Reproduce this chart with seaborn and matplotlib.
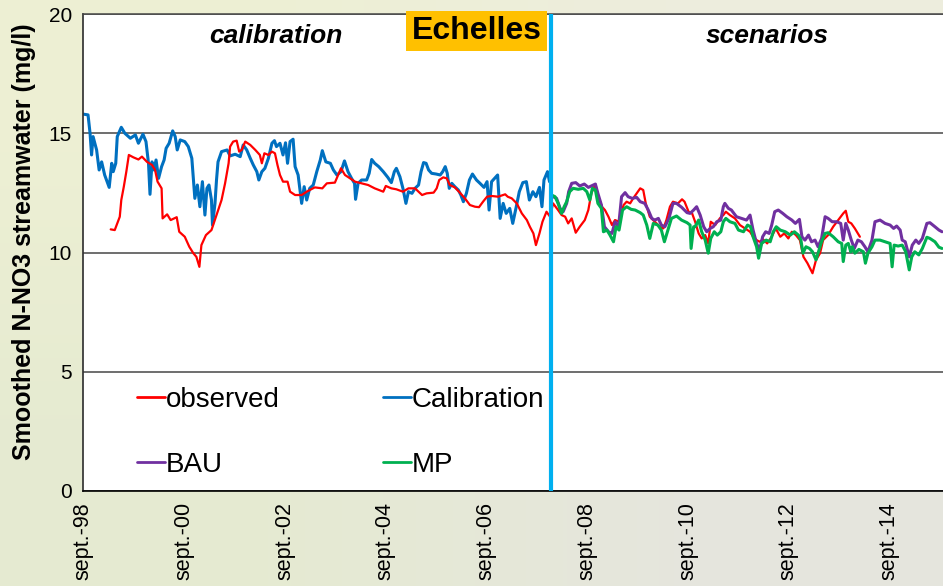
import numpy as np
import pandas as pd
import matplotlib
matplotlib.use("Agg")
import matplotlib.pyplot as plt
from matplotlib.lines import Line2D
import seaborn as sns

# ---- data: smoothed N-NO3 concentration (mg/l), time in decimal years ----
obs_t = [1999.22, 1999.30, 1999.40, 1999.43, 1999.48, 1999.53, 1999.58, 1999.67, 1999.77, 1999.84,
         1999.94, 2000.04, 2000.10, 2000.15, 2000.23, 2000.25, 2000.34, 2000.41, 2000.53, 2000.58,
         2000.69, 2000.78, 2000.86, 2000.92, 2000.98, 2001.02, 2001.11, 2001.22, 2001.32, 2001.42,
         2001.49, 2001.56, 2001.59, 2001.65, 2001.72, 2001.77, 2001.82, 2001.89, 2001.99, 2002.09,
         2002.18, 2002.22, 2002.27, 2002.35, 2002.42, 2002.48, 2002.53, 2002.58, 2002.64, 2002.73,
         2002.78, 2002.88, 2003.01, 2003.11, 2003.27, 2003.42, 2003.51, 2003.67, 2003.79, 2003.87,
         2003.97, 2004.07, 2004.20, 2004.33, 2004.46, 2004.63, 2004.68, 2004.79, 2004.89, 2005.02,
         2005.13, 2005.26, 2005.40, 2005.49, 2005.63, 2005.69, 2005.74, 2005.82, 2005.89, 2005.95,
         2006.05, 2006.15, 2006.25, 2006.35, 2006.45, 2006.53, 2006.61, 2006.69, 2006.78, 2006.91,
         2007.05, 2007.10, 2007.18, 2007.28, 2007.38, 2007.48, 2007.54, 2007.61, 2007.66, 2007.73,
         2007.79, 2007.87, 2007.94, 2008.00, 2008.10, 2008.17, 2008.24, 2008.30, 2008.37, 2008.45,
         2008.53, 2008.63, 2008.70, 2008.76, 2008.84, 2008.90, 2008.97, 2009.03, 2009.10, 2009.17,
         2009.23, 2009.31, 2009.40, 2009.46, 2009.53, 2009.59, 2009.66, 2009.73, 2009.79, 2009.84,
         2009.92, 2010.02, 2010.12, 2010.19, 2010.25, 2010.32, 2010.38, 2010.48, 2010.56, 2010.61,
         2010.69, 2010.76, 2010.82, 2010.89, 2010.95, 2011.02, 2011.08, 2011.13, 2011.22, 2011.31,
         2011.38, 2011.43, 2011.51, 2011.61, 2011.71, 2011.81, 2011.91, 2011.97, 2012.04, 2012.10,
         2012.17, 2012.25, 2012.34, 2012.42, 2012.51, 2012.59, 2012.67, 2012.74, 2012.82, 2012.90,
         2012.97, 2013.05, 2013.15, 2013.22, 2013.30, 2013.36, 2013.46, 2013.56, 2013.66, 2013.76,
         2013.81, 2013.86, 2013.92, 2013.99, 2014.09]
obs_v = [10.97, 10.94, 11.50, 12.20, 12.76, 13.39, 14.09, 13.99, 13.90, 14.02,
         13.80, 13.67, 13.46, 12.97, 12.69, 11.43, 11.60, 11.36, 11.48, 10.87,
         10.66, 10.24, 9.97, 9.82, 9.40, 10.31, 10.73, 10.94, 11.57, 12.20,
         12.90, 13.74, 14.44, 14.65, 14.69, 14.23, 14.30, 14.65, 14.51, 14.30,
         14.09, 13.74, 14.16, 14.09, 14.23, 14.16, 13.67, 13.25, 12.97, 12.97,
         12.55, 12.41, 12.41, 12.55, 12.73, 12.69, 12.90, 12.93, 13.53, 13.25,
         13.11, 12.97, 12.90, 12.83, 12.69, 12.55, 12.79, 12.69, 12.65, 12.55,
         12.69, 12.69, 12.41, 12.48, 12.51, 12.69, 13.04, 13.15, 13.11, 12.83,
         12.73, 12.51, 12.27, 11.99, 11.92, 11.90, 12.13, 12.34, 12.37, 12.34,
         12.44, 12.34, 12.27, 12.06, 11.64, 11.36, 11.08, 10.80, 10.31, 10.80,
         11.29, 11.71, 11.50, 12.06, 11.78, 11.57, 11.50, 11.22, 11.43, 10.83,
         11.08, 11.36, 11.78, 12.48, 12.87, 12.34, 11.92, 11.78, 11.50, 11.15,
         11.36, 11.29, 11.99, 12.13, 12.06, 12.27, 12.48, 12.69, 12.62, 12.06,
         11.50, 11.29, 11.08, 11.01, 11.36, 11.92, 12.13, 12.06, 12.23, 12.13,
         11.71, 11.64, 11.29, 10.80, 10.59, 10.73, 10.38, 11.29, 11.15, 11.43,
         11.57, 11.71, 11.57, 11.43, 11.15, 11.01, 10.87, 10.66, 10.52, 10.45,
         10.55, 10.38, 10.66, 11.01, 10.66, 10.80, 10.59, 10.87, 10.73, 10.52,
         9.82, 9.55, 9.13, 9.69, 9.97, 10.52, 10.73, 11.08, 11.36, 11.64,
         11.75, 11.29, 11.22, 11.01, 10.66]

cal_t = [1998.68, 1998.77, 1998.81, 1998.84, 1998.87, 1998.94, 1998.99, 1999.04, 1999.10, 1999.19,
         1999.24, 1999.27, 1999.32, 1999.35, 1999.43, 1999.50, 1999.61, 1999.71, 1999.77, 1999.86,
         1999.92, 1999.97, 2000.00, 2000.04, 2000.08, 2000.12, 2000.17, 2000.23, 2000.28, 2000.32,
         2000.38, 2000.45, 2000.50, 2000.54, 2000.60, 2000.69, 2000.76, 2000.83, 2000.86, 2000.89,
         2000.94, 2000.99, 2001.04, 2001.09, 2001.13, 2001.17, 2001.22, 2001.24, 2001.29, 2001.32,
         2001.35, 2001.42, 2001.53, 2001.59, 2001.69, 2001.79, 2001.85, 2001.92, 2001.99, 2002.05,
         2002.12, 2002.16, 2002.22, 2002.28, 2002.35, 2002.42, 2002.47, 2002.51, 2002.58, 2002.64,
         2002.69, 2002.73, 2002.78, 2002.84, 2002.88, 2002.94, 2003.01, 2003.06, 2003.11, 2003.17,
         2003.24, 2003.31, 2003.38, 2003.42, 2003.49, 2003.58, 2003.64, 2003.71, 2003.79, 2003.86,
         2003.93, 2004.00, 2004.06, 2004.08, 2004.13, 2004.20, 2004.30, 2004.35, 2004.40, 2004.46,
         2004.54, 2004.63, 2004.72, 2004.79, 2004.85, 2004.89, 2004.96, 2005.02, 2005.08, 2005.13,
         2005.20, 2005.26, 2005.33, 2005.38, 2005.43, 2005.48, 2005.53, 2005.59, 2005.68, 2005.76,
         2005.81, 2005.86, 2005.90, 2005.94, 2005.99, 2006.05, 2006.12, 2006.17, 2006.22, 2006.28,
         2006.34, 2006.40, 2006.48, 2006.55, 2006.63, 2006.69, 2006.73, 2006.78, 2006.84, 2006.90,
         2006.95, 2007.01, 2007.07, 2007.14, 2007.20, 2007.27, 2007.33, 2007.40, 2007.47, 2007.53,
         2007.60, 2007.66, 2007.73, 2007.78, 2007.82, 2007.89, 2007.93]
cal_v = [15.80, 15.77, 15.00, 14.09, 14.86, 14.30, 13.46, 13.80, 13.25, 12.73,
         13.74, 13.39, 13.74, 14.86, 15.25, 15.00, 14.79, 14.93, 14.58, 14.96,
         14.65, 13.74, 12.44, 13.80, 13.46, 13.88, 13.11, 13.60, 13.88, 14.37,
         14.58, 15.10, 14.86, 14.30, 14.72, 14.65, 14.44, 13.95, 13.11, 12.27,
         12.83, 11.92, 12.97, 11.57, 12.69, 12.83, 12.20, 11.15, 12.06, 13.04,
         13.80, 14.23, 14.30, 14.05, 14.12, 14.02, 14.51, 14.30, 13.95, 13.67,
         13.39, 13.04, 13.39, 13.53, 13.95, 14.58, 14.69, 14.44, 14.58, 14.09,
         14.60, 13.74, 14.65, 14.75, 13.60, 13.25, 12.06, 12.76, 12.20, 12.69,
         12.83, 13.39, 13.88, 14.27, 13.80, 13.74, 13.46, 13.25, 13.39, 13.84,
         13.39, 13.11, 12.90, 12.23, 12.90, 13.04, 13.04, 13.32, 13.90, 13.74,
         13.60, 13.39, 13.15, 12.93, 13.39, 13.53, 13.18, 12.69, 12.06, 12.55,
         12.48, 12.69, 12.83, 13.39, 13.77, 13.74, 13.46, 13.32, 13.29, 13.25,
         13.39, 13.60, 13.32, 12.69, 12.90, 12.76, 12.62, 12.41, 12.13, 12.48,
         13.04, 13.29, 13.04, 12.90, 12.73, 12.97, 11.78, 12.97, 13.11, 13.25,
         11.43, 12.06, 11.64, 11.85, 11.22, 11.92, 12.55, 12.93, 12.97, 12.20,
         12.55, 12.34, 12.73, 11.92, 13.04, 13.39, 12.97]

bau_t = [2008.00, 2008.07, 2008.14, 2008.20, 2008.27, 2008.31, 2008.37, 2008.45, 2008.53, 2008.62,
         2008.70, 2008.76, 2008.84, 2008.89, 2008.96, 2009.02, 2009.10, 2009.17, 2009.23, 2009.30,
         2009.36, 2009.43, 2009.49, 2009.57, 2009.66, 2009.73, 2009.82, 2009.89, 2009.96, 2010.02,
         2010.09, 2010.15, 2010.22, 2010.30, 2010.38, 2010.45, 2010.55, 2010.66, 2010.72, 2010.79,
         2010.85, 2010.92, 2010.99, 2011.05, 2011.12, 2011.18, 2011.25, 2011.33, 2011.38, 2011.41,
         2011.48, 2011.54, 2011.64, 2011.74, 2011.84, 2011.91, 2011.97, 2012.04, 2012.10, 2012.16,
         2012.22, 2012.29, 2012.34, 2012.40, 2012.47, 2012.56, 2012.64, 2012.74, 2012.81, 2012.89,
         2012.94, 2013.00, 2013.07, 2013.13, 2013.20, 2013.26, 2013.33, 2013.40, 2013.46, 2013.54,
         2013.63, 2013.71, 2013.76, 2013.81, 2013.86, 2013.92, 2013.98, 2014.05, 2014.12, 2014.19,
         2014.25, 2014.33, 2014.39, 2014.49, 2014.59, 2014.69, 2014.76, 2014.82, 2014.89, 2014.93,
         2014.99, 2015.07, 2015.13, 2015.20, 2015.26, 2015.33, 2015.42, 2015.48, 2015.58, 2015.66,
         2015.72]
bau_v = [12.34, 12.27, 11.85, 11.71, 12.06, 12.55, 12.90, 12.93, 12.79, 12.87,
         12.73, 12.79, 12.87, 12.48, 11.99, 11.08, 10.87, 10.80, 11.29, 11.08,
         12.34, 12.51, 12.34, 12.27, 12.31, 12.13, 12.06, 11.78, 11.43, 11.36,
         11.43, 11.15, 11.08, 11.43, 12.06, 12.06, 11.90, 11.67, 11.64, 11.78,
         11.92, 11.57, 11.08, 10.87, 11.01, 11.08, 11.29, 11.36, 11.92, 12.06,
         11.85, 11.78, 11.50, 11.43, 11.36, 11.57, 10.94, 10.38, 10.10, 10.66,
         10.87, 10.80, 11.15, 11.71, 11.78, 11.64, 11.50, 11.36, 11.22, 11.39,
         10.66, 10.52, 10.73, 10.45, 10.52, 10.24, 10.59, 11.50, 11.43, 11.29,
         11.29, 11.22, 10.52, 11.22, 10.94, 10.52, 10.17, 10.52, 10.45, 10.24,
         10.03, 10.52, 11.29, 11.36, 11.22, 11.15, 11.01, 11.11, 10.94, 10.52,
         10.45, 9.82, 10.31, 10.52, 10.38, 10.59, 11.22, 11.25, 11.08, 10.94,
         10.87]

mp_t = [2007.97, 2008.04, 2008.10, 2008.17, 2008.22, 2008.27, 2008.33, 2008.40, 2008.50, 2008.60,
        2008.67, 2008.73, 2008.78, 2008.84, 2008.89, 2008.96, 2009.00, 2009.07, 2009.13, 2009.20,
        2009.25, 2009.31, 2009.38, 2009.46, 2009.55, 2009.63, 2009.73, 2009.79, 2009.86, 2009.92,
        2009.99, 2010.08, 2010.15, 2010.21, 2010.27, 2010.35, 2010.45, 2010.55, 2010.66, 2010.72,
        2010.74, 2010.79, 2010.82, 2010.89, 2010.95, 2011.02, 2011.08, 2011.13, 2011.20, 2011.26,
        2011.33, 2011.38, 2011.43, 2011.51, 2011.61, 2011.68, 2011.78, 2011.86, 2011.92, 2011.97,
        2012.04, 2012.08, 2012.14, 2012.23, 2012.31, 2012.37, 2012.43, 2012.51, 2012.61, 2012.71,
        2012.79, 2012.87, 2012.92, 2012.96, 2013.02, 2013.09, 2013.15, 2013.22, 2013.26, 2013.33,
        2013.40, 2013.46, 2013.56, 2013.66, 2013.73, 2013.76, 2013.81, 2013.86, 2013.91, 2013.94,
        2013.99, 2014.07, 2014.16, 2014.20, 2014.25, 2014.33, 2014.39, 2014.49, 2014.59, 2014.69,
        2014.73, 2014.77, 2014.85, 2014.93, 2015.00, 2015.07, 2015.12, 2015.18, 2015.26, 2015.33,
        2015.42, 2015.48, 2015.58, 2015.66, 2015.72]
mp_v = [12.41, 12.34, 12.06, 11.64, 11.92, 12.13, 12.55, 12.69, 12.65, 12.69,
        12.55, 12.20, 12.69, 12.62, 12.06, 11.85, 10.87, 10.94, 10.73, 10.45,
        11.08, 10.94, 11.78, 11.92, 11.81, 11.78, 11.67, 11.57, 11.15, 10.59,
        11.22, 11.15, 10.94, 10.45, 10.87, 11.43, 11.53, 11.36, 11.25, 11.15,
        10.17, 11.08, 11.08, 11.36, 10.87, 10.52, 9.97, 10.59, 10.87, 10.73,
        10.87, 11.29, 11.43, 11.29, 11.22, 10.94, 10.87, 11.15, 11.08, 10.66,
        10.24, 9.76, 10.38, 10.52, 10.45, 10.87, 11.08, 10.94, 10.87, 10.73,
        10.87, 10.73, 10.52, 9.97, 10.24, 10.17, 10.03, 9.69, 9.97, 10.45,
        10.80, 10.83, 10.66, 10.45, 10.38, 9.62, 10.31, 10.38, 10.03, 10.24,
        9.97, 10.13, 10.03, 9.55, 9.97, 10.24, 10.52, 10.52, 10.45, 10.38,
        9.40, 10.31, 10.27, 10.31, 10.03, 9.27, 9.82, 10.03, 9.90, 10.17,
        10.64, 10.59, 10.45, 10.22, 10.17]

split_year = 2007.96                      # end of calibration period
tick_years = [1998.67, 2000.67, 2002.67, 2004.67, 2006.67, 2008.67, 2010.67, 2012.67, 2014.67]
tick_labels = ["sept.-98", "sept.-00", "sept.-02", "sept.-04", "sept.-06",
               "sept.-08", "sept.-10", "sept.-12", "sept.-14"]
y_ticks = [0, 5, 10, 15, 20]

series = [
    ("Calibration", cal_t, cal_v, "#0070C0", 2.2),
    ("observed", obs_t, obs_v, "#FF0000", 1.6),
    ("BAU", bau_t, bau_v, "#7030A0", 2.2),
    ("MP", mp_t, mp_v, "#00B050", 2.2),
]

# ---- styling ----
sns.set_theme(style="white")
plt.rcParams["font.family"] = ["Liberation Sans", "DejaVu Sans"]
plt.rcParams.update({"text.color": "black", "axes.labelcolor": "black",
                     "xtick.color": "black", "ytick.color": "black"})

W, H = 943, 586
fig = plt.figure(figsize=(W / 100, H / 100), dpi=100)

# soft pale backdrop behind the plot
bg = fig.add_axes([0, 0, 1, 1], zorder=0)
bg.axis("off")
grad = np.array([[[0.93, 0.94, 0.83], [0.93, 0.93, 0.87]],
                 [[0.90, 0.92, 0.82], [0.90, 0.90, 0.87]]])
bg.imshow(grad, extent=(0, 1, 0, 1), aspect="auto", interpolation="bilinear")

ax = fig.add_axes([83 / W, 95 / H, 860 / W, 477 / H], zorder=1)
ax.set_facecolor("white")

for name, t, v, col, lw in series:
    df = pd.DataFrame({"t": t, "v": v})
    sns.lineplot(data=df, x="t", y="v", ax=ax, color=col, linewidth=lw,
                 estimator=None, legend=False)

ax.axvline(split_year, color="#00B0F0", linewidth=3, zorder=5)

ax.set_xlim(1998.67, 2015.74)
ax.set_ylim(0, 20)
ax.set_yticks(y_ticks)
ax.set_yticklabels([str(v) for v in y_ticks], fontsize=15)
ax.set_xticks(tick_years)
ax.set_xticklabels(tick_labels, rotation=90, fontsize=15.5)
ax.tick_params(axis="both", direction="out", length=5, width=1, color="black",
               labelcolor="black", pad=3)
ax.yaxis.grid(True, color="#474747", linewidth=1.1)
ax.xaxis.grid(False)
for side in ["left", "bottom"]:
    ax.spines[side].set_visible(True)
ax.spines["right"].set_visible(False)
ax.spines["top"].set_color("#474747")
ax.spines["top"].set_linewidth(1.1)
ax.spines["left"].set_color("#333333")
ax.spines["bottom"].set_color("black")
ax.spines["bottom"].set_linewidth(1.2)

ax.set_xlabel("")
ax.set_ylabel("Smoothed N-NO3 streamwater (mg/l)", fontsize=18, fontweight="bold", color="black")
ax.yaxis.set_label_coords(-0.055, 0.522)

ax.text(0.2238, 0.953, "calibration", transform=ax.transAxes, ha="center", va="center",
        fontsize=19, fontweight="bold", fontstyle="italic", color="black")
ax.text(0.796, 0.953, "scenarios", transform=ax.transAxes, ha="center", va="center",
        fontsize=19, fontweight="bold", fontstyle="italic", color="black")
ax.text(0.4576, 0.964, "Echelles", transform=ax.transAxes, ha="center", va="center",
        fontsize=23, fontweight="bold", color="black", clip_on=False, zorder=6,
        bbox=dict(boxstyle="square,pad=0.16", facecolor="#FFC000", edgecolor="none"))

handles = [Line2D([], [], color=s[3], linewidth=2) for s in series]
by_name = {s[0]: h for s, h in zip(series, handles)}
order = ["observed", "BAU", "Calibration", "MP"]
leg = ax.legend([by_name[n] for n in order], order, ncol=2, frameon=False, fontsize=20,
                handlelength=1.0, handletextpad=0.05, columnspacing=3.7, labelspacing=1.41,
                borderpad=0, borderaxespad=0, loc="upper left",
                bbox_to_anchor=(137 / W, 1 - 387 / H), bbox_transform=fig.transFigure)
for txt in leg.get_texts():
    txt.set_color("black")

fig.savefig("out.png", dpi=100, facecolor=fig.get_facecolor())
